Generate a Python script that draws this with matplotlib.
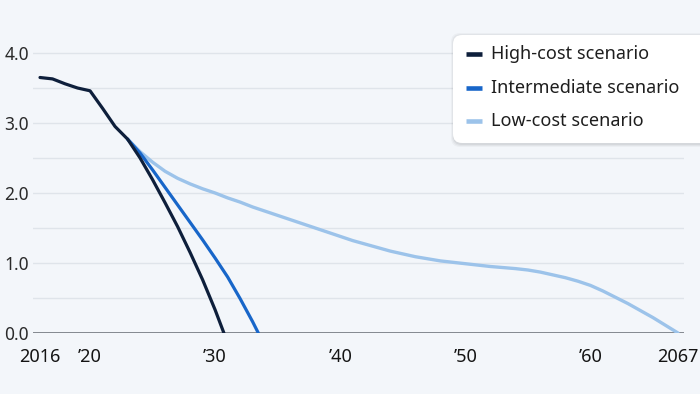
import matplotlib
matplotlib.use("Agg")
import matplotlib.pyplot as plt
from matplotlib.patches import FancyBboxPatch
from matplotlib.lines import Line2D
from matplotlib.transforms import IdentityTransform

plt.rcParams['font.family'] = ['Noto Sans', 'DejaVu Sans']

# ---- data ----
series_names = ["High-cost scenario", "Intermediate scenario", "Low-cost scenario"]

high_years = [2016, 2017, 2018, 2019, 2020, 2021, 2022, 2023, 2024, 2025, 2026,
              2027, 2028, 2029, 2030, 2030.7]
high_vals = [3.65, 3.63, 3.56, 3.50, 3.46, 3.21, 2.95, 2.77, 2.50, 2.19, 1.86,
             1.52, 1.15, 0.76, 0.33, 0.0]

inter_years = [2023, 2024, 2025, 2026, 2027, 2028, 2029, 2030, 2031, 2032, 2033, 2033.45]
inter_vals = [2.77, 2.57, 2.33, 2.08, 1.83, 1.58, 1.33, 1.07, 0.80, 0.49, 0.16, 0.0]

low_years = list(range(2023, 2068))
low_vals = [2.77, 2.59, 2.44, 2.31, 2.21, 2.13, 2.06, 2.00, 1.93, 1.87,
            1.80, 1.74, 1.68, 1.62, 1.56, 1.50, 1.44, 1.38, 1.32, 1.27,
            1.22, 1.17, 1.13, 1.09, 1.06, 1.03, 1.01, 0.99, 0.97, 0.95,
            0.935, 0.92, 0.90, 0.87, 0.83, 0.79, 0.74, 0.68, 0.60, 0.51,
            0.42, 0.32, 0.22, 0.11, 0.0]

x_ticks = [2016, 2020, 2030, 2040, 2050, 2060, 2067]
x_tick_labels = ["2016", "\u201920", "\u201930", "\u201940", "\u201950", "\u201960", "2067"]
y_ticks = [0.0, 1.0, 2.0, 3.0, 4.0]
y_tick_labels = ["0.0", "1.0", "2.0", "3.0", "4.0"]
grid_levels = [0.5, 1.0, 1.5, 2.0, 2.5, 3.0, 3.5, 4.0]

colors = ["#0e1f3b", "#1866c9", "#9cc3ea"]
bg = "#f3f6fa"

W, H = 700, 394
fig = plt.figure(figsize=(7, 3.94), dpi=100, facecolor=bg)
ymax = 4.6
ax = fig.add_axes([33 / W, 61 / H, 651 / W, ymax * 70 / H])
ax.set_facecolor(bg)
ax.set_xlim(2015.44, 2067.48)
ax.set_ylim(0, ymax)
for s in ax.spines.values():
    s.set_visible(False)

for g in grid_levels:
    ax.axhline(g, color="#dfe4ea", lw=1.0, zorder=1)
ax.axhline(0, color="#7b8087", lw=1.3, zorder=2)

ax.plot(low_years, low_vals, color=colors[2], lw=2.4, zorder=3,
        solid_capstyle="round", solid_joinstyle="round")
ax.plot(inter_years, inter_vals, color=colors[1], lw=2.3, zorder=4,
        solid_capstyle="round", solid_joinstyle="round")
ax.plot(high_years, high_vals, color=colors[0], lw=2.3, zorder=5,
        solid_capstyle="round", solid_joinstyle="round")

ax.set_xticks(x_ticks)
ax.set_xticklabels(x_tick_labels, fontweight="medium")
ax.set_xticks([x_ticks[0], x_ticks[-1]], minor=True)
ax.tick_params(axis="x", which="major", length=0, pad=10.5, labelsize=13, labelcolor="#141414")
ax.tick_params(axis="x", which="minor", length=6, width=1, color="#555a60", direction="out")
ax.set_yticks(y_ticks)
ax.set_yticklabels(y_tick_labels)
ax.tick_params(axis="y", length=0, pad=3, labelsize=12.5, labelcolor="#2a2a2a")

# ---- legend (custom box, cut off at right edge) ----
tr = IdentityTransform()
lx0, ly_top, ly_bot = 453, 35, 143
for off, a in [(3, 0.03), (2, 0.04), (1, 0.05)]:
    sh = FancyBboxPatch((lx0 - off + 1, H - ly_bot - off - 1), 300 + 2 * off, ly_bot - ly_top + 2 * off,
                        boxstyle="round,pad=0,rounding_size=9", transform=tr,
                        facecolor="#000000", edgecolor="none", alpha=a, zorder=8)
    fig.add_artist(sh)
box = FancyBboxPatch((lx0, H - ly_bot), 300, ly_bot - ly_top,
                     boxstyle="round,pad=0,rounding_size=9", transform=tr,
                     facecolor="white", edgecolor="none", zorder=9)
fig.add_artist(box)
row_y = [54, 88, 121]
for name, c, yy in zip(series_names, colors, row_y):
    fig.add_artist(Line2D([466, 482], [H - yy, H - yy], transform=tr, color=c, lw=3.3,
                          solid_capstyle="butt", zorder=10))
    fig.text(491 / W, (H - yy) / H, name, fontsize=13, color="#1e1e1e",
             va="center", ha="left", zorder=11)

fig.savefig("out.png", dpi=100, facecolor=bg)
